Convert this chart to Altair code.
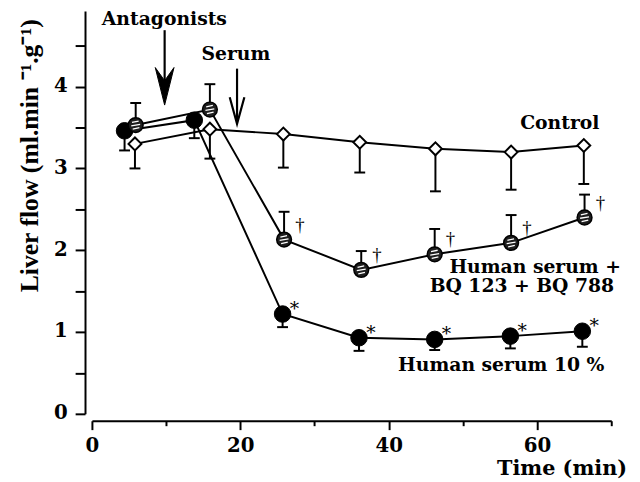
import altair as alt
import pandas as pd

# ---- data ----
ctrl_t = [5.8, 15.9, 25.8, 36.1, 46.3, 56.5, 66.3]
ctrl_v = [3.30, 3.48, 3.42, 3.32, 3.24, 3.20, 3.28]
ctrl_lo = [3.00, 3.12, 3.01, 2.95, 2.72, 2.74, 2.81]

hs_t = [4.4, 13.8, 25.7, 36.0, 46.2, 56.4, 66.1]
hs_v = [3.46, 3.59, 1.22, 0.93, 0.91, 0.95, 1.01]
hs_lo = [3.22, 3.37, 1.06, 0.77, 0.78, 0.80, 0.82]

bq_t = [5.9, 15.9, 25.9, 36.3, 46.2, 56.5, 66.4]
bq_v = [3.53, 3.72, 2.13, 1.76, 1.95, 2.09, 2.40]
bq_hi = [3.80, 4.03, 2.47, 1.99, 2.26, 2.43, 2.68]

labels = ["Antagonists", "Serum", "Control", "Human serum +",
          "BQ 123 + BQ 788", "Human serum 10 %"]
labels_t = [1.33, 14.77, 57.72, 48.18, 45.52, 41.26]
labels_v = [4.756, 4.321, 3.488, 1.726, 1.485, 0.519]

arrow_t = [9.8, 19.56]
arrow_top = [4.69, 4.22]
arrow_end = [3.90, 3.58]
arrow_head_v = [4.004, 3.708]

x_ticks = [0, 10, 20, 30, 40, 50, 60, 70]
y_ticks = [0, 0.5, 1, 1.5, 2, 2.5, 3, 3.5, 4, 4.5]

# ---- tables ----
ctrl = pd.DataFrame({"t": ctrl_t, "v": ctrl_v, "e": ctrl_lo})
hs = pd.DataFrame({"t": hs_t, "v": hs_v, "e": hs_lo})
bq = pd.DataFrame({"t": bq_t, "v": bq_v, "e": bq_hi})
ann = pd.DataFrame({"label": labels, "t": labels_t, "v": labels_v})
arrows = pd.DataFrame({"t": arrow_t, "v": arrow_top, "e": arrow_end, "h": arrow_head_v})
xtitle = pd.DataFrame({"label": ["Time (min)"], "t": [54.6], "v": [-0.745]})
ytitle = pd.DataFrame({"label": ["Liver flow (ml.min \u207b\u00b9.g\u207b\u00b9)"], "t": [-7.32], "v": [1.485]})

FONT = "DejaVu Serif"

xaxis = alt.Axis(
    values=x_ticks, title=None, grid=False, offset=7,
    labelExpr="datum.value % 20 === 0 ? format(datum.value, 'd') : ''",
    tickSize={"condition": {"test": "datum.value % 20 === 0", "value": 9}, "value": 5},
    tickWidth=2, tickColor="black", domainWidth=2, domainColor="black",
    labelFont=FONT, labelFontWeight="bold", labelFontSize=20, labelColor="black",
    labelPadding=6, labelFlush=False, labelOverlap=False,
)
yaxis = alt.Axis(
    values=y_ticks, title=None, grid=False, offset=7,
    labelExpr="datum.value % 1 === 0 ? format(datum.value, 'd') : ''",
    tickSize=10, tickWidth=2, tickColor="black", domainWidth=2, domainColor="black",
    labelFont=FONT, labelFontWeight="bold", labelFontSize=20, labelColor="black",
    labelPadding=8, labelOffset=-1, labelFlush=False, labelOverlap=False,
)
xs = alt.Scale(domain=[0, 70], nice=False, zero=False)
ys = alt.Scale(domain=[0, 4.9246], nice=False, zero=False)
X = alt.X("t:Q", scale=xs, axis=xaxis)
Y = alt.Y("v:Q", scale=ys, axis=yaxis)


def line(df):
    return alt.Chart(df).mark_line(color="black", strokeWidth=2).encode(x=X, y=Y)


def errbar(df):
    r = alt.Chart(df).mark_rule(color="black", strokeWidth=2).encode(x=X, y=Y, y2=alt.Y2("e:Q"))
    c = alt.Chart(df).mark_tick(orient="horizontal", color="black", size=11, thickness=2,
                                opacity=1).encode(x=X, y=alt.Y("e:Q", scale=ys, axis=yaxis))
    return r + c


diamonds = alt.Chart(ctrl).mark_point(shape="diamond", filled=True, fill="white", stroke="black",
                                      strokeWidth=2, size=170, opacity=1).encode(x=X, y=Y)
black = alt.Chart(hs).mark_point(shape="circle", filled=True, fill="black", stroke="black",
                                 strokeWidth=1, size=280, opacity=1).encode(x=X, y=Y)
hatch = alt.Chart(bq).mark_point(shape="circle", filled=True, fill="#1e1e1e", stroke="black",
                                 strokeWidth=1.5, size=225, opacity=1).encode(x=X, y=Y)
stripes = alt.Chart(bq).mark_point(
    shape="M-0.5,-0.35L0.4,-0.55M-0.6,0.1L0.6,-0.1M-0.4,0.55L0.5,0.35",
    filled=False, stroke="white", strokeWidth=1.3, size=225, opacity=1).encode(x=X, y=Y)

stars = alt.Chart(hs.iloc[2:]).mark_text(text="*", dx=12, dy=1, font=FONT, fontSize=19,
                                         color="black", baseline="alphabetic").encode(x=X, y=Y)
daggers = alt.Chart(bq.iloc[2:]).mark_text(text="\u2020", dx=16, dy=-9, font="Liberation Serif",
                                           fontSize=19, color="black",
                                           baseline="alphabetic").encode(x=X, y=Y)

shafts = alt.Chart(arrows).mark_rule(color="black", strokeWidth=2.2).encode(
    x=X, y=Y, y2=alt.Y2("e:Q"))
head_a = alt.Chart(arrows.iloc[[0]]).mark_point(
    shape="M0,1L-0.5,-1L0,-0.3L0.5,-1Z", filled=True, fill="black", stroke="black",
    strokeWidth=1, size=1444, opacity=1).encode(x=X, y=alt.Y("h:Q", scale=ys, axis=yaxis))
head_s = alt.Chart(arrows.iloc[[1]]).mark_point(
    shape="M-0.55,-1L0,1L0.55,-1", filled=False, stroke="black", strokeWidth=2.2,
    size=729, opacity=1).encode(x=X, y=alt.Y("h:Q", scale=ys, axis=yaxis))

texts = alt.Chart(ann).mark_text(align="left", baseline="alphabetic", font=FONT,
                                 fontWeight="bold", fontSize=19, color="black").encode(
    x=X, y=Y, text="label:N")
xt = alt.Chart(xtitle).mark_text(align="left", baseline="alphabetic", font=FONT,
                                 fontWeight="bold", fontSize=21, color="black").encode(
    x=X, y=Y, text="label:N")
yt = alt.Chart(ytitle).mark_text(align="left", baseline="alphabetic", angle=270,
                                 font="Liberation Serif", fontWeight="bold", fontSize=26,
                                 color="black").encode(x=X, y=Y, text="label:N")

chart = alt.layer(
    line(ctrl), line(hs), line(bq),
    errbar(ctrl), errbar(hs), errbar(bq),
    diamonds, black, hatch, stripes,
    stars, daggers, shafts, head_a, head_s, texts, xt, yt,
).properties(
    width=526, height=408,
    autosize=alt.AutoSizeParams(type="none"),
    padding={"left": 85, "top": 0, "right": 21, "bottom": 66},
    background="white",
).configure_view(stroke=None)

chart.save("out.html", embed_options={"renderer": "svg", "actions": False})
